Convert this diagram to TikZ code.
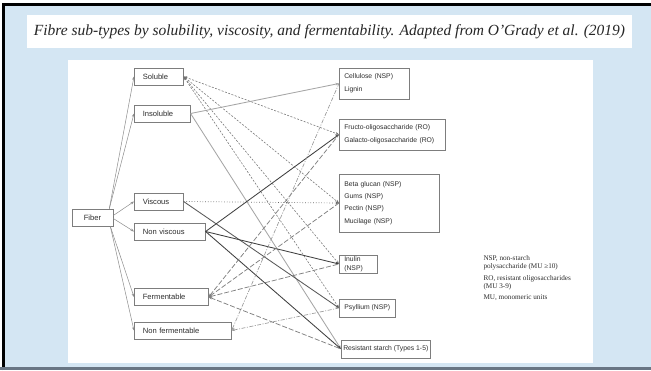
\documentclass[tikz,border=0pt]{standalone}
\usepackage{fontspec}
\setmainfont{Liberation Serif}
\setsansfont{Liberation Sans}
\usetikzlibrary{arrows.meta}
\definecolor{slideblue}{RGB}{212,230,243}
\definecolor{bandgrey}{RGB}{105,118,132}
\definecolor{boxgrey}{RGB}{125,125,125}
\definecolor{textgrey}{RGB}{45,45,45}

\begin{document}
\begin{tikzpicture}[x=1pt, y=-1pt,
    >={Stealth[length=3.5pt,width=2.6pt]},
    typebox/.style={draw=boxgrey, line width=0.6pt, fill=white, anchor=west, text=textgrey,
        font=\sffamily\fontsize{7.6}{9}\selectfont, inner xsep=8.5pt, inner ysep=0pt,
        minimum height=17pt, align=left},
    fibrebox/.style={draw=boxgrey, line width=0.6pt, fill=white, anchor=west, text=textgrey,
        font=\sffamily\fontsize{6.8}{13}\selectfont, inner xsep=5pt, inner ysep=0pt, align=left},
    fibreline/.style={->, draw=gray!90, line width=0.5pt},
    solline/.style={<->, draw=black!55, line width=0.55pt, dash pattern=on 2pt off 1.5pt},
    insolline/.style={->, draw=gray!70, line width=0.85pt},
    viscline/.style={->, draw=black!60, line width=0.7pt, dotted},
    visctwo/.style={->, draw=black!65, line width=0.85pt},
    nonviscline/.style={->, draw=black!75, line width=0.85pt},
    fermline/.style={<-, draw=black!50, line width=0.75pt, dash pattern=on 5pt off 2pt},
    nonfermline/.style={<-, draw=gray!80, line width=0.65pt, dash pattern=on 4pt off 1.5pt on 1pt off 1.5pt},
    legend/.style={anchor=west, align=left, text=textgrey, font=\fontsize{7.2}{8}\selectfont}]

    % Slide background and frame
    \useasboundingbox (0,0) rectangle (651,370);
    \fill[white] (0,0) rectangle (651,370);
    \fill[slideblue] (2,3) rectangle (651,367);
    \draw[black, line width=3pt] (3.5,370) -- (3.5,4.5) -- (651,4.5);
    \fill[bandgrey] (0,367) rectangle (651,370);

    % Title strip
    \node[fill=white, minimum width=605pt, minimum height=33pt, inner sep=0pt,
        font=\itshape\fontsize{15.5}{18}\selectfont, text=black!85] (title) at (329.5,31.5)
        {Fibre sub-types by solubility, viscosity, and fermentability. Adapted from O'Grady et al. (2019)};

    % White panel of the figure
    \fill[white] (68,60) rectangle (593,363);

    % Root node
    \node[typebox, anchor=center, minimum width=41pt, inner xsep=2pt, align=center] (fiber) at (92.5,217.5) {Fiber};

    % Properties
    \node[typebox, text width=32pt] (sol) at (134,76.5) {Soluble};
    \node[typebox, text width=39pt] (insol) at (134,113.5) {Insoluble};
    \node[typebox, text width=32pt] (visc) at (134,201.5) {Viscous};
    \node[typebox, text width=54pt] (nonvisc) at (134,231.5) {Non viscous};
    \node[typebox, text width=57pt] (ferm) at (134,297) {Fermentable};
    \node[typebox, text width=80pt] (nonferm) at (134,330.5) {Non fermentable};

    % Fibre sub-types
    \node[fibrebox, text width=60pt, minimum height=31pt] (cell) at (339,83.5) {Cellulose (NSP)\\Lignin};
    \node[fibrebox, text width=96pt, minimum height=31pt] (fos) at (339,134.5) {Fructo-oligosaccharide (RO)\\Galacto-oligosaccharide (RO)};
    \node[fibrebox, text width=90pt, minimum height=58pt, font=\sffamily\fontsize{6.8}{12.3}\selectfont] (beta) at (339,203)
        {Beta glucan (NSP)\\Gums (NSP)\\Pectin (NSP)\\Mucilage (NSP)};
    \node[fibrebox, text width=28pt, minimum height=18pt, inner xsep=5pt, font=\sffamily\fontsize{6.8}{8.5}\selectfont] (inulin) at (339,264) {Inulin\\(NSP)};
    \node[fibrebox, minimum width=56pt, minimum height=18pt, align=center] (psyl) at (339,308) {Psyllium (NSP)};
    \node[fibrebox, minimum width=89pt, minimum height=18pt, inner xsep=1pt, align=center] (rs) at (341,349) {Resistant starch (Types 1-5)};

    % Fiber to properties
    \draw[fibreline] ([xshift=-4pt]fiber.north east) -- (sol.west);
    \draw[fibreline] ([xshift=-4pt]fiber.north east) -- (insol.west);
    \draw[fibreline] ([yshift=2pt]fiber.east) -- (visc.west);
    \draw[fibreline] ([yshift=-1pt]fiber.east) -- (nonvisc.west);
    \draw[fibreline] ([xshift=-3pt]fiber.south east) -- (ferm.west);
    \draw[fibreline] ([xshift=-3pt]fiber.south east) -- (nonferm.west);

    % Soluble
    \foreach \t in {fos, beta, inulin, psyl} {
        \draw[solline] (sol.east) -- (\t.west);
    }

    % Insoluble
    \draw[insolline] (insol.east) -- (cell.west);
    \draw[insolline] (insol.east) -- (rs.west);

    % Viscous
    \draw[viscline] (visc.east) -- (beta.west);
    \draw[visctwo] (visc.east) -- (psyl.west);

    % Non viscous
    \foreach \t in {fos, inulin, rs} {
        \draw[nonviscline] (nonvisc.east) -- (\t.west);
    }

    % Fermentable
    \foreach \t in {fos, beta, inulin, rs} {
        \draw[fermline] (ferm.east) -- (\t.west);
    }

    % Non fermentable
    \draw[nonfermline] (nonferm.east) -- (cell.west);
    \draw[nonfermline] (nonferm.east) -- (psyl.west);

    % Abbreviations
    \node[legend] (abbnsp) at (480,263) {NSP, non-starch\\polysaccharide (MU ≥10)};
    \node[legend] (abbro) at (480,282.5) {RO, resistant oligosaccharides\\(MU 3-9)};
    \node[legend] (abbmu) at (480,297.5) {MU, monomeric units};
\end{tikzpicture}
\end{document}
